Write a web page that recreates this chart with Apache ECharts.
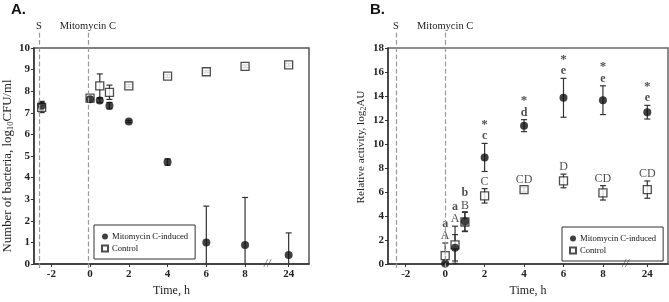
<!DOCTYPE html>
<html>
<head>
<meta charset="utf-8">
<script src="https://cdn.jsdelivr.net/npm/echarts@6/dist/echarts.min.js"></script>
<style>
html, body { margin: 0; padding: 0; background: #fff; }
#chart { width: 669px; height: 302px; }
</style>
</head>
<body>
<div id="chart"></div>
<script>
// panel A: viable bacteria, log10 CFU/ml
const timesA = [-2.5, 0, 0.5, 1, 2, 4, 6, 8, 24];
const mitoA = [7.33, 7.63, 7.57, 7.33, 6.6, 4.72, 1.0, 0.88, 0.42];
const mitoErrA = [0.2, 0.08, 0.1, 0.15, 0.05, 0.15, 1.68, 2.2, 1.02];
const ctrlA = [7.25, 7.68, 8.25, 7.95, 8.25, 8.7, 8.9, 9.15, 9.22];
const ctrlErrA = [0.24, 0.06, 0.55, 0.33, 0.06, 0.06, 0.05, 0.06, 0.06];

// panel B: relative activity, log2 AU
const timesB = [0, 0.5, 1, 2, 4, 6, 8, 24];
const mitoB = [0.05, 1.35, 3.55, 8.88, 11.53, 13.85, 13.65, 12.65];
const mitoErrB = [0, 1.1, 0.8, 1.17, 0.5, 1.62, 1.2, 0.57];
const ctrlB = [0.7, 1.6, 3.5, 5.68, 6.2, 6.92, 5.93, 6.2];
const ctrlErrB = [1.05, 1.55, 0.8, 0.6, 0.2, 0.57, 0.6, 0.72];
const mitoLettersB = ['a', 'a', 'b', 'c', 'd', 'e', 'e', 'e'];
const ctrlLettersB = ['A', 'A', 'B', 'C', 'CD', 'D', 'CD', 'CD'];
const starsB = ['', '', '', '*', '*', '*', '*', '*'];

const xTicks = [-2, 0, 2, 4, 6, 8, 24];
const eventTimes = [-2.5, 0];
const eventNames = ['S', 'Mitomycin C'];

// broken x axis: 24 h is drawn right after 8 h
const BREAK_AT = 9.15;
const POS_24 = 10.25;
const pos = t => (t > 8 ? POS_24 : t);

const SERIF = 'Liberation Serif';
const INK = '#222';

function errorBars(idx, times, vals, errs) {
  return {
    type: 'custom',
    xAxisIndex: idx,
    yAxisIndex: idx,
    silent: true,
    z: 1,
    encode: { x: 0, y: [1, 2] },
    data: times.map((t, i) => {
      const lo = vals[i] - errs[i];
      return [pos(t), Math.max(lo, 0), vals[i] + errs[i], lo < 0 ? 0 : 1];
    }),
    renderItem: (params, api) => {
      const top = api.coord([api.value(0), api.value(2)]);
      const bot = api.coord([api.value(0), api.value(1)]);
      const w = 3;
      const st = { stroke: '#333', lineWidth: 1.2 };
      const kids = [
        { type: 'line', shape: { x1: top[0], y1: top[1], x2: bot[0], y2: bot[1] }, style: st },
        { type: 'line', shape: { x1: top[0] - w, y1: top[1], x2: top[0] + w, y2: top[1] }, style: st }
      ];
      if (api.value(3)) {
        kids.push({ type: 'line', shape: { x1: bot[0] - w, y1: bot[1], x2: bot[0] + w, y2: bot[1] }, style: st });
      }
      return { type: 'group', children: kids };
    }
  };
}

function ctrlSeries(idx, times, vals) {
  return {
    name: 'Control',
    type: 'scatter',
    xAxisIndex: idx,
    yAxisIndex: idx,
    symbol: 'rect',
    symbolSize: 8,
    z: 2,
    itemStyle: { color: '#fff', borderColor: '#222', borderWidth: 1.3 },
    data: times.map((t, i) => [pos(t), vals[i]])
  };
}

function mitoSeries(idx, times, vals) {
  return {
    name: 'Mitomycin C-induced',
    type: 'scatter',
    xAxisIndex: idx,
    yAxisIndex: idx,
    symbol: 'circle',
    symbolSize: 8,
    z: 3,
    itemStyle: { color: '#111' },
    data: times.map((t, i) => [pos(t), vals[i]])
  };
}

function breakMark(idx) {
  return {
    type: 'scatter',
    xAxisIndex: idx,
    yAxisIndex: idx,
    symbolSize: 0,
    silent: true,
    z: 5,
    label: {
      show: true, position: 'inside', formatter: '//',
      fontFamily: SERIF, fontStyle: 'italic', fontSize: 12, color: '#333'
    },
    data: [[BREAK_AT, 0]]
  };
}

function eventLines(idx) {
  return {
    type: 'line',
    xAxisIndex: idx,
    yAxisIndex: idx,
    data: [],
    markLine: {
      silent: true,
      symbol: 'none',
      lineStyle: { type: 'dashed', color: '#999', width: 1.2 },
      label: {
        show: true, position: 'end', distance: 0, formatter: '{b}',
        fontFamily: SERIF, fontSize: 10.5, color: INK
      },
      data: eventTimes.map((t, i) => [
        { coord: [t, 0], name: eventNames[i] },
        { coord: [t, 1] }
      ])
    }
  };
}

// letters and asterisks above the error bars of panel B
const annot = [];
timesB.forEach((t, i) => {
  const ctrlTop = ctrlB[i] + ctrlErrB[i];
  const mitoTop = mitoB[i] + mitoErrB[i];
  const mitoTxt = (starsB[i] ? '{s|' + starsB[i] + '}\n' : '') + '{b|' + mitoLettersB[i] + '}';
  if (mitoTop <= ctrlTop + 0.2) {
    annot.push({ value: [pos(t), ctrlTop], label: { formatter: mitoTxt + '\n{n|' + ctrlLettersB[i] + '}' } });
  } else {
    annot.push({ value: [pos(t), ctrlTop], label: { formatter: '{n|' + ctrlLettersB[i] + '}' } });
    annot.push({ value: [pos(t), mitoTop], label: { formatter: mitoTxt } });
  }
});

function xAxis(gridIndex, hidden) {
  if (hidden) {
    return { type: 'value', gridIndex, min: -2.9, max: 11.3, show: false };
  }
  const ticks = xTicks.map(pos);
  return {
    type: 'value',
    gridIndex,
    min: -2.9,
    max: 11.3,
    name: 'Time, h',
    nameLocation: 'middle',
    nameGap: 21,
    nameTextStyle: { fontFamily: SERIF, fontSize: 12, color: INK },
    axisLine: { onZero: false, lineStyle: { color: '#333', width: 1.5 } },
    axisTick: { length: 3, customValues: ticks, lineStyle: { color: '#333' } },
    axisLabel: {
      customValues: ticks,
      margin: 5,
      fontFamily: SERIF, fontSize: 11, fontWeight: 'bold', color: INK,
      formatter: v => (v > 9 ? '24' : String(v))
    },
    splitLine: { show: false }
  };
}

function yAxis(gridIndex, max, interval, name, gap, size, pad) {
  return {
    type: 'value',
    gridIndex,
    min: 0,
    max,
    interval,
    name,
    nameLocation: 'middle',
    nameGap: gap,
    nameTextStyle: {
      fontFamily: SERIF, fontSize: size, color: INK, padding: pad,
      rich: { sub: { fontFamily: SERIF, fontSize: size * 0.68, color: INK, padding: [6, 0, 0, 0] } }
    },
    axisLine: { show: true, onZero: false, lineStyle: { color: '#333', width: 1.5 } },
    axisTick: { show: true, length: 3, lineStyle: { color: '#333' } },
    axisLabel: { margin: 4, fontFamily: SERIF, fontSize: 11, fontWeight: 'bold', color: INK },
    splitLine: { show: false }
  };
}

function legend(left, top) {
  return {
    left, top,
    orient: 'vertical',
    data: ['Mitomycin C-induced', 'Control'],
    itemWidth: 6,
    itemHeight: 6,
    itemGap: 3,
    padding: [7, 7, 6, 7],
    borderColor: '#333',
    borderWidth: 1,
    backgroundColor: '#fff',
    selectedMode: false,
    textStyle: { fontFamily: SERIF, fontSize: 8.6, color: '#111', padding: [0, 0, 0, -1] }
  };
}

const option = {
  backgroundColor: '#fff',
  animation: false,
  title: [
    { text: 'A.', left: 11, top: 2, padding: 0, textStyle: { fontFamily: 'Liberation Sans', fontWeight: 'bold', fontSize: 15, color: '#111' } },
    { text: 'B.', left: 370, top: 2, padding: 0, textStyle: { fontFamily: 'Liberation Sans', fontWeight: 'bold', fontSize: 15, color: '#111' } }
  ],
  legend: [legend(94, 225), legend(562, 227)],
  grid: [
    { left: 31, top: 48, width: 278, height: 220, show: true, borderColor: '#555', borderWidth: 1.5 },
    { left: 388, top: 48, width: 280, height: 220, show: true, borderColor: '#666', borderWidth: 1.5 },
    { left: 31, top: 32, width: 278, height: 236 },
    { left: 388, top: 32, width: 280, height: 236 }
  ],
  xAxis: [xAxis(0), xAxis(1), xAxis(2, true), xAxis(3, true)],
  yAxis: [
    yAxis(0, 10, 1, 'Number of bacteria, log{sub|10}CFU/ml', 18, 12.8, [0, 20, 0, 0]),
    yAxis(1, 18, 2, 'Relative activity, log{sub|2}AU', 20, 11.2, [0, 0, 0, 18]),
    { type: 'value', gridIndex: 2, min: 0, max: 1, show: false },
    { type: 'value', gridIndex: 3, min: 0, max: 1, show: false }
  ],
  series: [
    eventLines(2),
    eventLines(3),
    errorBars(0, timesA, ctrlA, ctrlErrA),
    errorBars(0, timesA, mitoA, mitoErrA),
    ctrlSeries(0, timesA, ctrlA),
    mitoSeries(0, timesA, mitoA),
    errorBars(1, timesB, ctrlB, ctrlErrB),
    errorBars(1, timesB, mitoB, mitoErrB),
    ctrlSeries(1, timesB, ctrlB),
    mitoSeries(1, timesB, mitoB),
    breakMark(0),
    breakMark(1),
    {
      type: 'scatter',
      xAxisIndex: 1,
      yAxisIndex: 1,
      symbolSize: 0,
      silent: true,
      z: 4,
      label: {
        show: true,
        position: 'top',
        distance: 1,
        rich: {
          n: { fontFamily: SERIF, fontSize: 12, color: INK, lineHeight: 12 },
          b: { fontFamily: SERIF, fontSize: 12, fontWeight: 'bold', color: INK, lineHeight: 12 },
          s: { fontFamily: SERIF, fontSize: 13, fontWeight: 'bold', color: INK, lineHeight: 12 }
        }
      },
      data: annot
    }
  ]
};

const chart = echarts.init(document.getElementById('chart'));
chart.setOption(option);
</script>
</body>
</html>
